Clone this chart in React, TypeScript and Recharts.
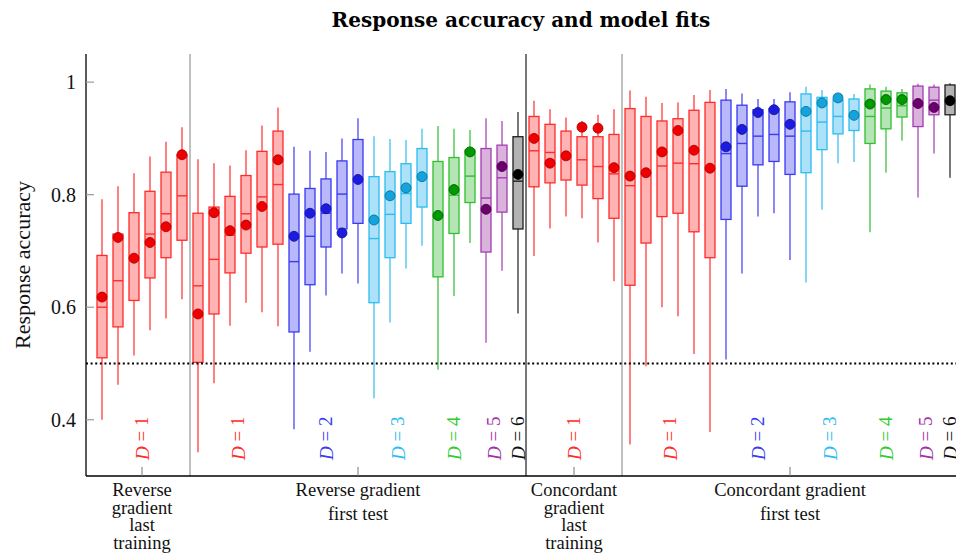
import React from 'react';
import {
  ComposedChart,
  XAxis,
  YAxis,
  Bar,
  Scatter,
  ReferenceLine,
  ReferenceDot,
} from 'recharts';

// Panels along the x axis, in order, with their number of boxes.
const panelNames: string[][] = [
  ['Reverse', 'gradient', 'last', 'training'],
  ['Reverse gradient', 'first test'],
  ['Concordant', 'gradient', 'last', 'training'],
  ['Concordant gradient', 'first test'],
];
const panelSizes = [6, 21, 6, 21];

// Model depth D of each box (one entry per box, left to right).
const depth = [
  1, 1, 1, 1, 1, 1,
  1, 1, 1, 1, 1, 1, 2, 2, 2, 2, 2, 3, 3, 3, 3, 4, 4, 4, 5, 5, 6,
  1, 1, 1, 1, 1, 1,
  1, 1, 1, 1, 1, 1, 2, 2, 2, 2, 2, 3, 3, 3, 3, 4, 4, 4, 5, 5, 6,
];

// Box-plot statistics of response accuracy, one entry per box.
const whiskerLow = [
  0.400, 0.462, 0.514, 0.559, 0.580, 0.614,
  0.342, 0.465, 0.567, 0.608, 0.591, 0.566, 0.383, 0.521, 0.621, 0.660, 0.642, 0.438, 0.573, 0.669, 0.709, 0.489, 0.620, 0.714, 0.537, 0.665, 0.589,
  0.691, 0.740, 0.761, 0.758, 0.715, 0.646,
  0.356, 0.495, 0.600, 0.584, 0.517, 0.378, 0.507, 0.660, 0.761, 0.767, 0.684, 0.644, 0.773, 0.856, 0.858, 0.733, 0.839, 0.896, 0.795, 0.873, 0.830,
];
const quartileLow = [
  0.510, 0.565, 0.612, 0.652, 0.688, 0.719,
  0.502, 0.588, 0.661, 0.696, 0.707, 0.712, 0.556, 0.640, 0.707, 0.739, 0.749, 0.608, 0.688, 0.749, 0.778, 0.654, 0.731, 0.786, 0.698, 0.769, 0.739,
  0.814, 0.821, 0.826, 0.817, 0.793, 0.758,
  0.639, 0.714, 0.761, 0.767, 0.734, 0.688, 0.756, 0.815, 0.853, 0.859, 0.836, 0.839, 0.880, 0.908, 0.914, 0.891, 0.917, 0.938, 0.921, 0.942, 0.942,
];
const medians = [
  0.600, 0.647, 0.688, 0.730, 0.766, 0.798,
  0.638, 0.685, 0.728, 0.766, 0.796, 0.818, 0.681, 0.726, 0.767, 0.801, 0.826, 0.722, 0.765, 0.802, 0.831, 0.762, 0.799, 0.833, 0.794, 0.830, 0.824,
  0.878, 0.875, 0.868, 0.862, 0.850, 0.837,
  0.816, 0.838, 0.851, 0.856, 0.855, 0.846, 0.873, 0.891, 0.904, 0.907, 0.904, 0.913, 0.929, 0.939, 0.940, 0.939, 0.954, 0.958, 0.958, 0.968, 0.966,
];
const quartileHigh = [
  0.692, 0.730, 0.768, 0.806, 0.840, 0.871,
  0.767, 0.778, 0.797, 0.834, 0.877, 0.913, 0.801, 0.811, 0.828, 0.860, 0.898, 0.832, 0.841, 0.855, 0.882, 0.859, 0.866, 0.879, 0.882, 0.888, 0.903,
  0.939, 0.925, 0.913, 0.903, 0.903, 0.907,
  0.953, 0.939, 0.931, 0.935, 0.950, 0.964, 0.968, 0.959, 0.951, 0.953, 0.965, 0.979, 0.973, 0.968, 0.970, 0.988, 0.984, 0.981, 0.993, 0.991, 0.995,
];
const whiskerHigh = [
  0.792, 0.815, 0.838, 0.868, 0.894, 0.920,
  0.863, 0.856, 0.852, 0.879, 0.923, 0.955, 0.885, 0.878, 0.876, 0.900, 0.936, 0.904, 0.899, 0.897, 0.917, 0.922, 0.917, 0.915, 0.936, 0.931, 0.947,
  0.967, 0.952, 0.937, 0.931, 0.942, 0.952,
  0.985, 0.974, 0.963, 0.964, 0.977, 0.986, 0.988, 0.980, 0.970, 0.970, 0.982, 0.992, 0.986, 0.976, 0.979, 0.996, 0.992, 0.988, 0.997, 0.996, 0.998,
];
// Model fits (mean accuracy predicted), drawn as dots.
const modelFit = [
  0.618, 0.724, 0.687, 0.715, 0.743, 0.871,
  0.588, 0.768, 0.736, 0.746, 0.779, 0.862, 0.726, 0.767, 0.775, 0.732, 0.827, 0.755, 0.798, 0.812, 0.832, 0.763, 0.809, 0.876, 0.774, 0.850, 0.836,
  0.900, 0.856, 0.869, 0.920, 0.918, 0.848,
  0.833, 0.839, 0.876, 0.914, 0.879, 0.847, 0.885, 0.916, 0.946, 0.951, 0.925, 0.948, 0.963, 0.972, 0.941, 0.961, 0.969, 0.969, 0.962, 0.955, 0.967,
];

const yTicks = [0.4, 0.6, 0.8, 1];

const boxStroke: Record<number, string> = {
  1: '#ff2b2b', 2: '#3a3af2', 3: '#2dbcef', 4: '#2fbf2f', 5: '#a23cb0', 6: '#1e1e1e',
};
const boxFill: Record<number, string> = {
  1: '#ffb3b3', 2: '#b8b8fb', 3: '#ade1f9', 4: '#b5e5b5', 5: '#dab3dd', 6: '#b3b3b3',
};
const dotFill: Record<number, string> = {
  1: '#ee0000', 2: '#1c1ce0', 3: '#14a3da', 4: '#009a00', 5: '#6c006c', 6: '#000000',
};
const dotStroke: Record<number, string> = {
  1: '#a80000', 2: '#10108a', 3: '#0a6a90', 4: '#005500', 5: '#400040', 6: '#000000',
};
const labelColor: Record<number, string> = {
  1: '#ff2b2b', 2: '#3a3af2', 3: '#2dbcef', 4: '#2fcc2f', 5: '#a030a8', 6: '#111111',
};

const SERIF = '"Liberation Serif", "Times New Roman", serif';

const rows = depth.map((d, i) => ({
  pos: i,
  depth: d,
  lo: whiskerLow[i],
  q1: quartileLow[i],
  med: medians[i],
  q3: quartileHigh[i],
  hi: whiskerHigh[i],
  fit: modelFit[i],
}));

// Panel start indices, centres (axis ticks) and separators.
const panelStarts = panelSizes.map((_, k) => panelSizes.slice(0, k).reduce((a, b) => a + b, 0));
const panelCenters = panelStarts.map((s, k) => s + (panelSizes[k] - 1) / 2);
const separators = panelStarts.slice(1).map((s) => s - 0.5);

// One "D = n" label per run of equal depth inside a panel.
const depthLabels: { center: number; depth: number }[] = [];
panelStarts.forEach((start, k) => {
  let i = start;
  const end = start + panelSizes[k];
  while (i < end) {
    let j = i;
    while (j + 1 < end && depth[j + 1] === depth[i]) j++;
    depthLabels.push({ center: (i + j) / 2, depth: depth[i] });
    i = j + 1;
  }
});

const X_DOMAIN: [number, number] = [-1, 54];

const WhiskerShape = (p: any) => {
  const { x, y, width, height, payload } = p;
  const cx = x + width / 2;
  return (
    <line x1={cx} x2={cx} y1={y} y2={y + height} stroke={boxStroke[payload.depth]} strokeWidth={1.2} />
  );
};

const BoxShape = (p: any) => {
  const { x, y, width, height, payload } = p;
  return (
    <rect
      x={x}
      y={y}
      width={width}
      height={height}
      fill={boxFill[payload.depth]}
      stroke={boxStroke[payload.depth]}
      strokeWidth={1.3}
    />
  );
};

const MedianShape = (p: any) => {
  const { cx, cy, payload } = p;
  return (
    <line x1={cx - 5} x2={cx + 5} y1={cy} y2={cy} stroke={boxStroke[payload.depth]} strokeWidth={1.4} />
  );
};

const FitDot = (p: any) => {
  const { cx, cy, payload } = p;
  return (
    <circle cx={cx} cy={cy} r={5} fill={dotFill[payload.depth]} stroke={dotStroke[payload.depth]} strokeWidth={0.8} />
  );
};

const AccTick = (p: any) => {
  const { x, y, payload } = p;
  const v = payload.value;
  return (
    <g>
      <line x1={x} x2={x + 8} y1={y} y2={y} stroke="#9a9a9a" strokeWidth={1.2} />
      <text x={x - 10} y={y + 7} textAnchor="end" fontFamily={SERIF} fontSize={20} fill="#111">
        {v === 1 ? '1' : v.toFixed(1)}
      </text>
    </g>
  );
};

const PanelTick = (p: any) => {
  const { x, y, payload } = p;
  const k = panelCenters.indexOf(payload.value);
  const lines = k >= 0 ? panelNames[k] : [];
  const gap = lines.length > 2 ? 17.6 : 24;
  return (
    <g>
      <line x1={x} x2={x} y1={y} y2={y - 9} stroke="#777" strokeWidth={1} />
      <text x={x} y={y + 20} textAnchor="middle" fontFamily={SERIF} fontSize={18.5} fill="#111">
        {lines.map((s, i) => (
          <tspan key={i} x={x} dy={i === 0 ? 0 : gap}>
            {s}
          </tspan>
        ))}
      </text>
    </g>
  );
};

const DepthLabel = (p: any) => {
  const { viewBox, depthValue } = p;
  const cx = viewBox.x + (viewBox.width || 0) / 2;
  const cy = viewBox.y + (viewBox.height || 0) / 2;
  return (
    <text
      x={cx}
      y={cy}
      transform={`rotate(-90 ${cx} ${cy})`}
      textAnchor="middle"
      dominantBaseline="central"
      fontFamily={SERIF}
      fontSize={19}
      fill={labelColor[depthValue]}
    >
      <tspan fontStyle="italic">D</tspan>
      {` = ${depthValue}`}
    </text>
  );
};

export default function App() {
  return (
    <div
      style={{
        position: 'absolute',
        left: 0,
        top: 0,
        width: 956,
        height: 553,
        overflow: 'hidden',
        background: '#fff',
      }}
    >
      <div
        style={{
          position: 'absolute',
          left: 86,
          top: 9,
          width: 870,
          textAlign: 'center',
          fontFamily: '"DejaVu Serif", serif',
          fontWeight: 'bold',
          fontSize: 20,
          lineHeight: '22px',
          color: '#000',
          zIndex: 2,
        }}
      >
        Response accuracy and model fits
      </div>
      <ComposedChart
        width={970}
        height={553}
        data={rows}
        margin={{ top: 54, right: 4, bottom: 0, left: 0 }}
      >
        <XAxis
          type="number"
          dataKey="pos"
          domain={X_DOMAIN}
          allowDataOverflow
          ticks={panelCenters}
          interval={0}
          height={77}
          tickSize={0}
          tickMargin={0}
          tickLine={false}
          tick={PanelTick}
          axisLine={{ stroke: '#000', strokeWidth: 1.3 }}
        />
        <XAxis xAxisId="w" type="number" dataKey="pos" domain={X_DOMAIN} allowDataOverflow hide />
        <XAxis xAxisId="b" type="number" dataKey="pos" domain={X_DOMAIN} allowDataOverflow hide />
        <YAxis
          type="number"
          domain={[0.3, 1.05]}
          allowDataOverflow
          ticks={yTicks}
          interval={0}
          width={86}
          tickSize={0}
          tickMargin={0}
          tickLine={false}
          tick={AccTick}
          axisLine={{ stroke: '#000', strokeWidth: 1.3 }}
          label={{
            value: 'Response accuracy',
            angle: -90,
            position: 'insideLeft',
            offset: 22,
            style: { textAnchor: 'middle', fontFamily: SERIF, fontSize: 22, fill: '#111' },
          }}
        />

        {separators.map((s, k) => (
          <ReferenceLine
            key={`sep-${k}`}
            x={s}
            stroke={k === 1 ? '#777' : '#8c8c8c'}
            strokeWidth={k === 1 ? 2 : 1.1}
          />
        ))}
        <ReferenceLine y={0.5} stroke="#000" strokeWidth={2} strokeDasharray="2 2.6" />

        <Bar
          xAxisId="w"
          dataKey={(d: any) => [d.lo, d.hi]}
          barSize={10}
          shape={WhiskerShape}
          isAnimationActive={false}
        />
        <Bar
          xAxisId="b"
          dataKey={(d: any) => [d.q1, d.q3]}
          barSize={10}
          shape={BoxShape}
          isAnimationActive={false}
        />
        <Scatter dataKey="med" shape={MedianShape} isAnimationActive={false} />
        <Scatter dataKey="fit" shape={FitDot} isAnimationActive={false} />

        {depthLabels.map((l, k) => (
          <ReferenceDot
            key={`dl-${k}`}
            x={l.center}
            y={0.367}
            r={0}
            fill="none"
            stroke="none"
            label={(props: any) => <DepthLabel {...props} depthValue={l.depth} />}
          />
        ))}
      </ComposedChart>
    </div>
  );
}
